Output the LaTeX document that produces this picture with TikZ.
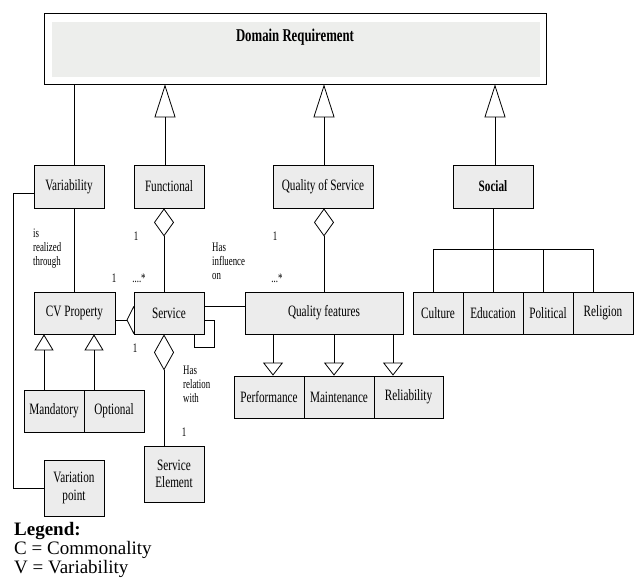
\documentclass[tikz,border=0pt]{standalone}
\usepackage{fontspec}
\setmainfont{Liberation Serif}
\newfontfamily\cond[FakeStretch=0.71]{Liberation Serif}
\newfontfamily\condl[FakeStretch=0.68]{Liberation Serif}
\usetikzlibrary{calc,arrows.meta}
\pgfdeclarelayer{bg}
\pgfsetlayers{bg,main}
\definecolor{boxfill}{HTML}{ECECEC}
\definecolor{drfill}{HTML}{EDEEEC}
\tikzset{
  cls/.style={draw, fill=boxfill, inner sep=0pt, line width=0.8pt, font=\cond\fontsize{15.8}{17.5}\selectfont, align=center},
  lbl/.style={font=\condl\fontsize{13}{14}\selectfont, align=left, inner sep=0pt},
  conn/.style={line width=0.8pt},
  genbig/.style={conn, -{Triangle[open, length=33pt, width=21pt]}},
  gensmall/.style={conn, -{Triangle[open, length=16pt, width=19pt]}},
  gendown/.style={conn, -{Triangle[open, length=13pt, width=20pt]}},
  agg/.style={conn, -{Diamond[open, length=28pt, width=20pt]}},
  aggtall/.style={conn, -{Diamond[open, length=36pt, width=20pt]}},
  aggside/.style={conn, -{Diamond[open, length=14pt, width=28pt]}},
  legend/.style={font=\fontsize{19}{21}\selectfont, inner sep=0pt, anchor=west}
}
\begin{document}
\begin{tikzpicture}[x=1pt, y=-1pt]
\useasboundingbox (0,0) rectangle (637,588);
% Domain requirement
\node[draw, line width=0.8pt, fill=white, minimum width=502pt, minimum height=70.5pt, inner sep=0pt] (dr) at (295,48.75) {};
\node[fill=drfill, minimum width=488.5pt, minimum height=55.4pt, inner sep=0pt] (drin) at (295.75,49.3) {};
\node[font=\cond\bfseries\fontsize{18}{20}\selectfont, inner sep=0pt] (drt) at (295,37.6) {Domain Requirement};
% second row
\node[cls, minimum width=70pt, minimum height=43pt] (var) at (69,186.5) {Variability};
\node[cls, minimum width=70pt, minimum height=43pt] (func) at (169,186.5) {Functional};
\node[cls, minimum width=100pt, minimum height=43pt] (qos) at (323,186.5) {Quality of Service};
\node[cls, minimum width=80pt, minimum height=43pt, font=\cond\bfseries\fontsize{15.8}{17.5}\selectfont] (soc) at (493,186.5) {Social};
% third row
\node[cls, minimum width=81pt, minimum height=42pt] (cvp) at (74.5,313) {CV Property};
\node[cls, minimum width=70pt, minimum height=42pt] (svc) at (169,313) {Service};
\node[cls, minimum width=158pt, minimum height=42pt] (qf) at (324,313) {Quality features};
\node[cls, minimum width=50pt, minimum height=42pt] (cult) at (438,313) {Culture};
\node[cls, minimum width=60pt, minimum height=42pt] (edu) at (493,313) {Education};
\node[cls, minimum width=50pt, minimum height=42pt] (pol) at (548,313) {Political};
\node[cls, minimum width=60pt, minimum height=42pt] (rel) at (603,313) {Religion};
% fourth row
\node[cls, minimum width=60pt, minimum height=42pt] (mand) at (54,411) {Mandatory};
\node[cls, minimum width=60pt, minimum height=42pt] (opt) at (114,411) {Optional};
\node[cls, minimum width=70pt, minimum height=42pt] (perf) at (269,397) {Performance};
\node[cls, minimum width=70pt, minimum height=42pt] (maint) at (339,397) {Maintenance};
\node[cls, minimum width=69pt, minimum height=42pt] (reli) at (408.5,397) {Reliability};
\node[cls, minimum width=60pt, minimum height=56pt] (svcel) at (174,474) {Service\\Element};
\node[cls, minimum width=60pt, minimum height=56pt] (vp) at (74,488) {Variation\\point};
% connectors to Domain Requirement
\coordinate (v1) at (74.5,165);
\draw[conn] (v1) -- (v1 |- dr.south);
\coordinate (f1) at (165,165);
\draw[genbig] (f1) -- (f1 |- dr.south);
\coordinate (q1) at (324,165);
\draw[genbig] (q1) -- (q1 |- dr.south);
\coordinate (so1) at (495,165);
\draw[genbig] (so1) -- (so1 |- dr.south);
% variability - CV property
\draw[conn] (cvp.north |- var.south) -- (cvp.north);
% service - functional
\coordinate (s1) at (164,292);
\draw[agg] (s1) -- (s1 |- func.south);
% quality features - QoS
\draw[agg] (qf.north) -- (qf.north |- qos.south);
% social tree
\coordinate (sj) at (493,249);
\draw[conn] (soc.south) -- (sj);
\draw[conn] (sj) -| ([xshift=-5pt]cult.north);
\draw[conn] (sj) -- (edu.north);
\draw[conn] (sj) -| ([xshift=-5pt]pol.north);
\draw[conn] (sj) -| ([xshift=-10pt]rel.north);
% CV property specialisations
\coordinate (m1) at ([xshift=-10pt]mand.north);
\draw[gensmall] (m1) -- (m1 |- cvp.south);
\coordinate (o1) at ([xshift=-20pt]opt.north);
\draw[gensmall] (o1) -- (o1 |- cvp.south);
% CV property - service
\coordinate (c1) at ([yshift=-7pt]cvp.east);
\begin{pgfonlayer}{bg}
\draw[aggside] (c1) -- ($(c1 -| svc.west)+(7,0)$);
\end{pgfonlayer}
% service - quality features
\coordinate (s2) at ([yshift=7pt]svc.east);
\draw[conn] (s2) -- (s2 -| qf.west);
% self loop
\draw[conn] ([yshift=-7pt]svc.east) -| ++(10,27) -| ([xshift=25pt]svc.south);
% service element
\coordinate (e1) at ([xshift=-10pt]svcel.north);
\draw[aggtall] (e1) -- (e1 |- svc.south);
% quality features children
\coordinate (p1) at ([xshift=4pt]perf.north);
\draw[gendown] (p1 |- qf.south) -- (p1);
\coordinate (p2) at ([xshift=-5pt]maint.north);
\draw[gendown] (p2 |- qf.south) -- (p2);
\coordinate (p3) at ([xshift=-15.5pt]reli.north);
\draw[gendown] (p3 |- qf.south) -- (p3);
% variability - variation point
\coordinate (vv) at ([yshift=-6.5pt]var.west);
\draw[conn] (vv) -- ++(-20,0) |- (vp.west);
% labels
\node[lbl, anchor=north west] (l1) at (33,229) {is\\realized\\through};
\node[lbl] (l2) at (136,236) {1};
\node[lbl] (l3) at (114,278) {1};
\node[lbl] (l4) at (139,278) {....*};
\node[lbl, anchor=north west] (l5) at (212,243) {Has\\influence\\on};
\node[lbl] (l6) at (275,236) {1};
\node[lbl] (l7) at (277,278) {...*};
\node[lbl] (l8) at (135,348) {1};
\node[lbl, anchor=north west] (l9) at (183,366) {Has\\relation\\with};
\node[lbl] (l10) at (184,432) {1};
% legend
\node[legend, font=\bfseries\fontsize{19}{21}\selectfont] (lg) at (14,531) {Legend:};
\node[legend] (lc) at (14,550) {C = Commonality};
\node[legend] (lv) at (14,569) {V = Variability};
\end{tikzpicture}
\end{document}
